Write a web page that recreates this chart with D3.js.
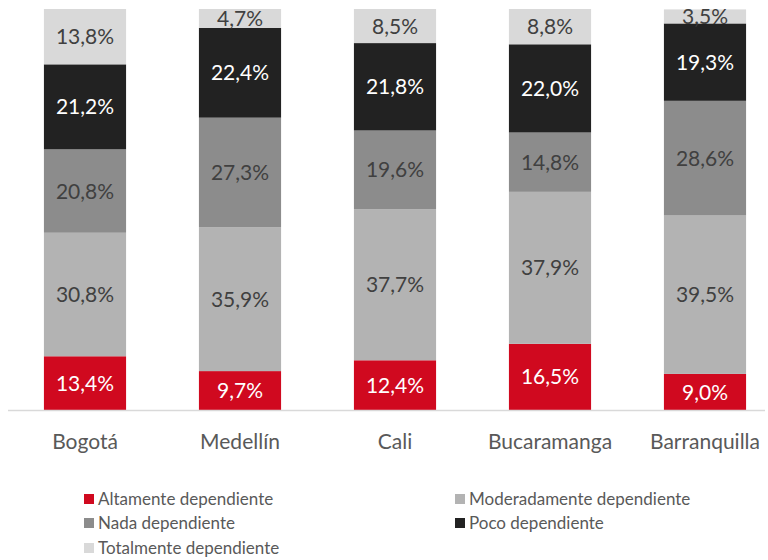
<!DOCTYPE html>
<html>
<head>
<meta charset="utf-8">
<script src="https://cdn.jsdelivr.net/npm/d3@7"></script>
<style>
  body { margin: 0; background: #fff; }
  svg { display: block; font-family: Lato, "Open Sans", sans-serif; }
</style>
</head>
<body>
<svg id="chart"></svg>
<script>
// dependencia por ciudad, barras apiladas al 100%

const cities = ['Bogotá', 'Medellín', 'Cali', 'Bucaramanga', 'Barranquilla'];

// series from bottom to top of each bar
const series = ['Altamente dependiente', 'Moderadamente dependiente', 'Nada dependiente',
                'Poco dependiente', 'Totalmente dependiente'];

const altamente     = [13.4, 9.7, 12.4, 16.5, 9.0];
const moderadamente = [30.8, 35.9, 37.7, 37.9, 39.5];
const nada          = [20.8, 27.3, 19.6, 14.8, 28.6];
const poco          = [21.2, 22.4, 21.8, 22.0, 19.3];
const totalmente    = [13.8, 4.7, 8.5, 8.8, 3.5];

const colors = ['#d0091f', '#b3b3b3', '#8c8c8c', '#222222', '#d9d9d9'];
const labelColors = ['#ffffff', '#404040', '#404040', '#ffffff', '#404040'];

const width = 768,
    height = 560;

const svg = d3.select('#chart')
    .attr('width', width)
    .attr('height', height);

// rows for the stack
const rows = cities.map((c, i) => ({
    city: c,
    'Altamente dependiente': altamente[i],
    'Moderadamente dependiente': moderadamente[i],
    'Nada dependiente': nada[i],
    'Poco dependiente': poco[i],
    'Totalmente dependiente': totalmente[i]
}));

const stacked = d3.stack().keys(series)(rows);

const x = d3.scaleBand()
    .domain(cities)
    .range([7.5, 782.5])
    .paddingInner(0.47)
    .paddingOuter(0.235);

const y = d3.scaleLinear()
    .domain([0, 100])
    .range([410, 9]);

const fmt = v => d3.format('.1f')(v).replace('.', ',') + '%';

const layers = svg.append('g').selectAll('g')
    .data(stacked)
    .join('g')
    .attr('fill', (d, i) => colors[i]);

layers.selectAll('rect')
    .data(d => d)
    .join('rect')
    .attr('x', d => x(d.data.city))
    .attr('width', x.bandwidth())
    .attr('y', d => y(d[1]))
    .attr('height', d => y(d[0]) - y(d[1]));

// segment labels
svg.append('g').selectAll('g')
    .data(stacked)
    .join('g')
    .attr('fill', (d, i) => labelColors[i])
    .selectAll('text')
    .data(d => d)
    .join('text')
    .attr('x', d => x(d.data.city) + x.bandwidth() / 2)
    .attr('y', d => (y(d[0]) + y(d[1])) / 2)
    .attr('dy', '0.36em')
    .attr('text-anchor', 'middle')
    .style('font-size', '21px')
    .text(d => fmt(d[1] - d[0]));

// baseline
svg.append('line')
    .attr('x1', 8).attr('x2', 765)
    .attr('y1', y(0) + 0.5).attr('y2', y(0) + 0.5)
    .attr('stroke', '#d9d9d9')
    .attr('stroke-width', 1.5);

// category axis
const xAxis = svg.append('g')
    .attr('transform', `translate(0,${y(0)})`)
    .call(d3.axisBottom(x).tickSize(0).tickPadding(24));
xAxis.select('.domain').remove();
xAxis.selectAll('text')
    .attr('fill', '#595959')
    .style('font-family', 'Lato, "Open Sans", sans-serif')
    .style('font-size', '21px');

// legend
const legendPos = [[84, 499], [455, 499], [84, 523], [455, 523], [84, 548]];

const legend = svg.append('g').selectAll('g')
    .data(series)
    .join('g')
    .attr('transform', (d, i) => `translate(${legendPos[i][0]},${legendPos[i][1]})`);

legend.append('rect')
    .attr('x', 0).attr('y', -5)
    .attr('width', 10).attr('height', 10)
    .attr('fill', (d, i) => colors[i]);

legend.append('text')
    .attr('x', 14)
    .attr('dy', '0.35em')
    .attr('fill', '#595959')
    .style('font-size', '17px')
    .text(d => d);
</script>
</body>
</html>
